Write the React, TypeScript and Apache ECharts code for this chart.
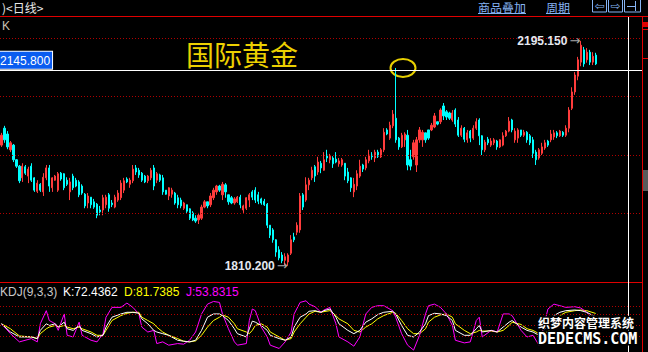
import React, { useEffect, useRef } from 'react';
import * as echarts from 'echarts';

// [open, close, low, high]
const ohlc: number[][] = [
  [2017, 2034, 2014, 2038], [2046, 2026, 2021, 2050], [2036, 2014, 2010, 2041], [2009, 2021, 2005, 2024],
  [2017, 1992, 1988, 2019], [1992, 1981, 1978, 1993], [1981, 1956, 1952, 1983], [1961, 1981, 1954, 1986],
  [1980, 1969, 1966, 1983], [1964, 1976, 1952, 1980], [1981, 1957, 1954, 1986], [1961, 1940, 1937, 1962],
  [1938, 1952, 1935, 1957], [1950, 1940, 1937, 1952], [1937, 1962, 1930, 1969], [1961, 1978, 1957, 1983],
  [1978, 1947, 1937, 1983], [1944, 1961, 1937, 1962], [1957, 1964, 1956, 1966], [1940, 1968, 1937, 1971],
  [1969, 1959, 1956, 1971], [1968, 1944, 1940, 1969], [1957, 1950, 1947, 1962], [1937, 1954, 1923, 1961],
  [1964, 1944, 1940, 1968], [1957, 1947, 1945, 1961], [1954, 1932, 1928, 1957], [1947, 1935, 1932, 1950],
  [1933, 1913, 1909, 1935], [1918, 1930, 1909, 1935], [1928, 1915, 1909, 1928], [1920, 1911, 1908, 1925],
  [1916, 1897, 1892, 1918], [1906, 1903, 1897, 1913], [1906, 1927, 1897, 1932], [1915, 1928, 1909, 1932],
  [1932, 1909, 1903, 1935], [1918, 1915, 1911, 1923], [1911, 1928, 1909, 1932], [1923, 1935, 1920, 1940],
  [1927, 1952, 1923, 1957], [1940, 1956, 1935, 1961], [1959, 1954, 1952, 1962], [1950, 1957, 1944, 1961],
  [1956, 1976, 1952, 1983], [1978, 1971, 1966, 1983], [1974, 1966, 1961, 1978], [1969, 1957, 1954, 1971],
  [1964, 1954, 1952, 1966], [1956, 1964, 1952, 1966], [1961, 1974, 1957, 1978], [1978, 1947, 1940, 1983],
  [1957, 1968, 1952, 1971], [1966, 1957, 1954, 1968], [1961, 1937, 1932, 1966], [1940, 1933, 1932, 1940],
  [1930, 1944, 1923, 1945], [1933, 1940, 1927, 1944], [1935, 1918, 1915, 1937], [1927, 1915, 1909, 1932],
  [1923, 1913, 1909, 1927], [1909, 1918, 1906, 1920], [1915, 1904, 1901, 1915], [1908, 1892, 1889, 1909],
  [1901, 1889, 1887, 1904], [1892, 1887, 1884, 1897], [1889, 1897, 1882, 1901], [1892, 1911, 1889, 1915],
  [1911, 1920, 1909, 1923], [1920, 1913, 1909, 1920], [1915, 1930, 1911, 1935], [1927, 1940, 1923, 1944],
  [1937, 1947, 1932, 1949], [1947, 1940, 1937, 1949], [1932, 1950, 1923, 1954], [1949, 1937, 1927, 1952],
  [1932, 1920, 1915, 1932], [1927, 1918, 1916, 1930], [1918, 1925, 1915, 1928], [1920, 1928, 1918, 1930],
  [1928, 1915, 1909, 1932], [1906, 1913, 1901, 1915], [1909, 1927, 1906, 1928], [1923, 1932, 1911, 1935],
  [1937, 1928, 1923, 1940], [1940, 1923, 1918, 1945], [1932, 1921, 1916, 1937], [1925, 1918, 1915, 1927],
  [1921, 1915, 1913, 1925], [1916, 1880, 1875, 1918], [1880, 1863, 1858, 1880], [1872, 1855, 1850, 1875],
  [1855, 1834, 1826, 1856], [1838, 1824, 1820, 1844], [1829, 1819, 1815, 1834], [1820, 1826, 1812, 1832],
  [1817, 1829, 1810.2, 1832], [1832, 1855, 1829, 1863], [1860, 1855, 1851, 1867], [1868, 1880, 1863, 1885],
  [1872, 1930, 1867, 1935], [1932, 1911, 1906, 1935], [1923, 1949, 1920, 1962], [1949, 1957, 1940, 1961],
  [1961, 1974, 1957, 1980], [1980, 1964, 1954, 1983], [1971, 1988, 1966, 1997], [1986, 1978, 1969, 1990],
  [1974, 1992, 1973, 2005], [2000, 1995, 1988, 2009], [1992, 1998, 1986, 2002], [1995, 1985, 1978, 1998],
  [1993, 1988, 1986, 2005], [1985, 1990, 1980, 1995], [1983, 1992, 1980, 1995], [1986, 1964, 1957, 1986],
  [1971, 1956, 1952, 1978], [1961, 1944, 1937, 1962], [1937, 1950, 1928, 1961], [1947, 1968, 1940, 1974],
  [1964, 1981, 1961, 1992], [1983, 1976, 1971, 1985], [1978, 1992, 1974, 1997], [1990, 2000, 1986, 2009],
  [2000, 1997, 1992, 2005], [1995, 2005, 1988, 2009], [2005, 1998, 1995, 2009], [1997, 2009, 1995, 2012],
  [2009, 2039, 2005, 2046], [2043, 2036, 2034, 2046], [2029, 2051, 2026, 2057], [2050, 2070, 2046, 2077],
  [2063, 2026, 2021, 2149], [2029, 2014, 2009, 2031], [2014, 2034, 2012, 2038], [2026, 2036, 2014, 2039],
  [2034, 1983, 1974, 2043], [1992, 1981, 1974, 2009], [1997, 2021, 1992, 2026], [1983, 2026, 1971, 2031],
  [2026, 2043, 2021, 2048], [2026, 2039, 2014, 2043], [2038, 2026, 2021, 2038], [2043, 2029, 2026, 2043],
  [2043, 2051, 2041, 2055], [2048, 2067, 2046, 2072], [2057, 2053, 2051, 2057], [2057, 2077, 2053, 2080],
  [2084, 2067, 2060, 2089], [2074, 2065, 2060, 2077], [2072, 2063, 2060, 2074], [2060, 2072, 2057, 2077],
  [2077, 2053, 2048, 2080], [2060, 2034, 2031, 2065], [2034, 2046, 2031, 2051], [2046, 2027, 2022, 2048],
  [2026, 2038, 2021, 2043], [2041, 2029, 2022, 2043], [2029, 2046, 2026, 2051], [2046, 2057, 2043, 2063],
  [2060, 2033, 2017, 2063], [2033, 2009, 2000, 2034], [2009, 2022, 2005, 2026], [2027, 2021, 2017, 2031],
  [2017, 2024, 2014, 2029], [2021, 2026, 2017, 2029], [2024, 2014, 2009, 2026], [2014, 2026, 2012, 2027],
  [2017, 2033, 2015, 2039], [2033, 2041, 2031, 2043], [2041, 2058, 2039, 2065], [2060, 2043, 2039, 2062],
  [2026, 2041, 2021, 2046], [2029, 2043, 2021, 2046], [2043, 2034, 2031, 2043], [2034, 2039, 2031, 2043],
  [2039, 2026, 2021, 2041], [2033, 2021, 2017, 2036], [2026, 2003, 1995, 2031], [2005, 1992, 1983, 2009],
  [1995, 2009, 1992, 2012], [2003, 2014, 2000, 2021], [2012, 2021, 2009, 2026], [2024, 2017, 2014, 2026],
  [2026, 2036, 2022, 2043], [2031, 2038, 2026, 2043], [2038, 2033, 2029, 2041], [2033, 2041, 2031, 2043],
  [2039, 2034, 2031, 2041], [2034, 2046, 2031, 2051], [2046, 2077, 2039, 2082], [2080, 2108, 2077, 2116],
  [2108, 2137, 2103, 2142], [2135, 2163, 2128, 2168], [2159, 2188, 2152, 2195.15], [2180, 2156, 2151, 2185],
  [2163, 2176, 2158, 2183], [2176, 2159, 2154, 2180], [2159, 2169, 2154, 2176], [2171, 2156, 2154, 2175],
];

const kdjIdx = [0, 3, 6, 10, 12, 13, 15, 16, 18, 19, 21, 22, 24, 26, 27, 30, 32, 34, 35, 37, 40, 42, 44, 46, 47, 49, 51, 52, 54, 56, 59, 61, 63, 65, 67, 69, 71, 73, 74, 76, 78, 79, 82, 83, 84, 85, 87, 89, 90, 93, 95, 97, 98, 100, 102, 103, 105, 107, 108, 110, 112, 113, 116, 118, 120, 122, 124, 126, 128, 131, 132, 134, 136, 138, 140, 142, 143, 145, 147, 149, 151, 152, 155, 157, 159, 160, 161, 164, 166, 168, 170, 171, 174, 176, 178, 180, 183, 185, 187, 189, 192, 194, 196, 199];
const kVals = [53.8, 31.6, 18.2, 18.2, 13.8, 36, 53.8, 49.3, 53.8, 44.9, 58.2, 40.4, 36, 49.3, 36, 27.1, 18.2, 22.7, 44.9, 71.6, 80.4, 84.9, 84.9, 82.2, 67.1, 53.8, 36, 31.6, 27.1, 22.7, 9.3, 6.7, 4.9, 9.3, 36, 71.6, 80.4, 80.4, 76, 62.7, 40.4, 27.1, 18.2, 40.4, 60.9, 58.2, 49.3, 36, 22.7, 13.8, 9.3, 18.2, 44.9, 71.6, 80.4, 87.6, 89.3, 84.9, 89.3, 93.8, 71.6, 53.8, 36, 27.1, 36, 58.2, 67.1, 78.7, 84.9, 87.6, 80.4, 49.3, 22.7, 18.2, 31.6, 53.8, 76, 82.2, 80.4, 76, 62.7, 36, 22.7, 22.7, 40.4, 49.3, 31.6, 36, 31.6, 44.9, 58.2, 62.7, 44.9, 36, 31.6, 22.7, 49.3, 76, 84.9, 89.3, 91.1, 89.3, 84.9, 72.4362];
const dVals = [53.8, 40.4, 20.9, 18.2, 13.8, 27.1, 40.4, 44.9, 49.3, 44.9, 49.3, 44.9, 40.4, 44.9, 40.4, 31.6, 22.7, 22.7, 36, 62.7, 76, 82.2, 84.9, 84.9, 71.6, 62.7, 53.8, 44.9, 31.6, 22.7, 13.8, 6.7, 4.9, 7.6, 22.7, 44.9, 62.7, 71.6, 77.8, 71.6, 53.8, 40.4, 31.6, 27.1, 36, 49.3, 53.8, 44.9, 31.6, 18.2, 9.3, 13.8, 31.6, 53.8, 71.6, 80.4, 87.6, 84.9, 86.7, 89.3, 76, 67.1, 53.8, 36, 31.6, 44.9, 53.8, 67.1, 76, 84.9, 82.2, 62.7, 40.4, 27.1, 27.1, 40.4, 58.2, 71.6, 77.8, 80.4, 71.6, 53.8, 36, 27.1, 31.6, 36, 34.2, 34.2, 31.6, 36, 49.3, 58.2, 52, 40.4, 36, 27.1, 31.6, 58.2, 76, 84.9, 89.3, 91.1, 89.3, 81.7385];
const jVals = [53.8, 27.1, 4.9, 13.8, 4.9, 53.8, 89.3, 62.7, 53.8, 36, 80.4, 22.7, 18.2, 58.2, 22.7, 9.3, 4.9, 27.1, 71.6, 98.2, 98.2, 109.8, 98.2, 80.4, 44.9, 31.6, 36, 0.4, 4.9, -4, 0.4, -1.3, 9.3, 31.6, 80.4, 107, 114.2, 111.6, 80.4, 40.4, 4.9, -4, 0.4, 62.7, 93.8, 89.3, 44.9, 18.2, -4, -12.9, 4.9, 31.6, 80.4, 111.6, 116, 107, 100, 84.9, 91.1, 98.2, 53.8, 18.2, 4.9, -6.7, 18.2, 80.4, 98.2, 102.7, 102.7, 89.3, 71.6, 27.1, -4, -17.3, 22.7, 80.4, 102.7, 107, 98.2, 80.4, 49.3, 9.3, 2.2, 4.9, 62.7, 71.6, 18.2, 36, 31.6, 80.4, 80.4, 76, 36, 18.2, 22.7, -4, 93.8, 107, 102.7, 98.2, 100, 96.4, 84.9, 53.8315];

const priceLevels = [1900, 2000, 2100, 2200];
const kdjLevels = [20, 50, 80, 100];
const crossPrice = 2145.8;
const highIdx = 194;
const highPrice = 2195.15;
const lowIdx = 96;
const lowPrice = 1810.2;
const kdjTitle = 'KDJ(9,3,3)';
const kdjLast = { k: 72.4362, d: 81.7385, j: 53.8315 };
const SLOTS = 215;
const categories = Array.from({ length: SLOTS }, (_, i) => 'd' + i);

const RED = '#ff3c3c';
const CYAN = '#00ffff';
const BORDER = '#e00000';
const DOT = '#b00000';
const UI_BLUE = '#86b4f4';

export default function App() {
  const ref = useRef<HTMLDivElement>(null);
  useEffect(() => {
    if (!ref.current) return;
    const chart = echarts.init(ref.current, undefined, { renderer: 'svg' });
    const dotted = (v: number) => ({
      yAxis: v,
      lineStyle: { color: DOT, type: [1, 2], width: 1 },
      label: { show: false },
    });
    const pointLabel = (txt: string) => ({
      show: true,
      position: 'left',
      distance: 0,
      formatter: '{t|' + txt + '}{a|\u2192}',
      rich: {
        t: { color: '#e4e8f0', fontFamily: 'Liberation Sans', fontWeight: 'bold', fontSize: 12 },
        a: { color: '#a8a8a8', fontFamily: 'DejaVu Sans', fontSize: 13, padding: [0, 0, 0, 2] },
      },
    });
    const topText = (text: string, x: number, fill: string) => ({
      type: 'text', x, y: 1,
      style: { text, fill, font: '12px "Noto Sans CJK SC"', lineHeight: 12, verticalAlign: 'top' },
    });
    chart.setOption({
      animation: false,
      backgroundColor: '#000',
      grid: [
        { left: 0, top: 16, width: 642, height: 266 },
        { left: 0, top: 299.3, width: 642, height: 51.8 },
      ],
      xAxis: [
        { type: 'category', data: categories, gridIndex: 0, show: false, boundaryGap: true },
        { type: 'value', gridIndex: 1, min: -0.5, max: SLOTS - 0.5, show: false },
      ],
      yAxis: [
        { type: 'value', gridIndex: 0, min: 1782.82, max: 2237.92, show: false, scale: true },
        { type: 'value', gridIndex: 1, min: -20, max: 120, show: false },
      ],
      series: [
        {
          type: 'candlestick',
          xAxisIndex: 0,
          yAxisIndex: 0,
          data: ohlc,
          barWidth: 1.7,
          itemStyle: { color: RED, color0: CYAN, borderColor: RED, borderColor0: CYAN, borderWidth: 1 },
          markLine: {
            silent: true,
            symbol: ['none', 'none'],
            animation: false,
            data: [
              ...priceLevels.map((v) => dotted(v)),
              {
                yAxis: crossPrice,
                lineStyle: { color: '#ffffff', type: 'solid', width: 1 },
                label: {
                  show: true,
                  position: 'insideStartTop',
                  distance: [-2, 1],
                  formatter: crossPrice.toFixed(3),
                  color: '#ffffff',
                  backgroundColor: '#0a5cf0',
                  borderColor: '#ffffff',
                  borderWidth: 1,
                  padding: [3, 2, 2, 2],
                  fontFamily: 'Liberation Sans',
                  fontSize: 12,
                },
              },
            ],
          },
          markPoint: {
            silent: true,
            symbol: 'circle',
            symbolSize: 1,
            itemStyle: { color: 'rgba(0,0,0,0)' },
            data: [
              { coord: [highIdx, highPrice], value: highPrice, label: pointLabel(highPrice.toFixed(3)) },
              { coord: [lowIdx, lowPrice], value: lowPrice, label: pointLabel(lowPrice.toFixed(3)) },
            ],
          },
        },
        {
          type: 'line',
          xAxisIndex: 1,
          yAxisIndex: 1,
          data: kdjIdx.map((x, i) => [x, dVals[i]]),
          symbol: 'none',
          lineStyle: { color: '#ffff00', width: 1 },
          markLine: {
            silent: true,
            symbol: ['none', 'none'],
            data: kdjLevels.map((v) => dotted(v)),
          },
        },
        {
          type: 'line',
          xAxisIndex: 1,
          yAxisIndex: 1,
          data: kdjIdx.map((x, i) => [x, jVals[i]]),
          symbol: 'none',
          lineStyle: { color: '#ff00ff', width: 1 },
        },
        {
          type: 'line',
          xAxisIndex: 1,
          yAxisIndex: 1,
          data: kdjIdx.map((x, i) => [x, kVals[i]]),
          symbol: 'none',
          lineStyle: { color: '#ffffff', width: 1 },
        },
      ],
      graphic: [
        { type: 'line', shape: { x1: 0, y1: 16.5, x2: 648, y2: 16.5 }, style: { stroke: BORDER, lineWidth: 1 } },
        { type: 'line', shape: { x1: 0, y1: 282.5, x2: 642, y2: 282.5 }, style: { stroke: BORDER, lineWidth: 1 } },
        { type: 'line', shape: { x1: 642.5, y1: 16, x2: 642.5, y2: 352 }, style: { stroke: BORDER, lineWidth: 1 } },
        { type: 'line', shape: { x1: 628.5, y1: 17, x2: 628.5, y2: 352 }, style: { stroke: '#ffffff', lineWidth: 1 } },
        { type: 'rect', shape: { x: 643, y: 22, width: 5, height: 5 }, style: { fill: BORDER } },
        { type: 'line', shape: { x1: 643, y1: 29.5, x2: 648, y2: 29.5 }, style: { stroke: BORDER, lineWidth: 1 } },
        { type: 'line', shape: { x1: 643, y1: 58.5, x2: 648, y2: 58.5 }, style: { stroke: BORDER, lineWidth: 1 } },
        { type: 'rect', shape: { x: 643, y: 170, width: 5, height: 21 }, style: { fill: '#5a5a5a' } },
        topText(')<日线>', 2, '#e8e8e8'),
        topText('商品叠加', 478, UI_BLUE),
        { type: 'line', shape: { x1: 478, y1: 13.5, x2: 526, y2: 13.5 }, style: { stroke: UI_BLUE, lineWidth: 1 } },
        topText('周期', 546, UI_BLUE),
        { type: 'line', shape: { x1: 546, y1: 13.5, x2: 570, y2: 13.5 }, style: { stroke: UI_BLUE, lineWidth: 1 } },
        { type: 'rect', shape: { x: 592.5, y: -1, width: 14, height: 13 }, style: { fill: 'none', stroke: UI_BLUE, lineWidth: 1 } },
        { type: 'rect', shape: { x: 608.5, y: -1, width: 14, height: 13 }, style: { fill: 'none', stroke: UI_BLUE, lineWidth: 1 } },
        { type: 'rect', shape: { x: 624.5, y: -1, width: 16, height: 13 }, style: { fill: 'none', stroke: UI_BLUE, lineWidth: 1 } },
        {
          type: 'text', x: 599.5, y: 6,
          style: { text: '\u21e6', fill: UI_BLUE, font: '12px "DejaVu Sans"', lineHeight: 11, align: 'center', verticalAlign: 'middle' },
        },
        {
          type: 'text', x: 615.5, y: 6,
          style: { text: '\u21e8', fill: UI_BLUE, font: '12px "DejaVu Sans"', lineHeight: 11, align: 'center', verticalAlign: 'middle' },
        },
        { type: 'line', shape: { x1: 627, y1: 6.5, x2: 635, y2: 6.5 }, style: { stroke: UI_BLUE, lineWidth: 1 } },
        { type: 'line', shape: { x1: 635.5, y1: 1, x2: 635.5, y2: 11 }, style: { stroke: UI_BLUE, lineWidth: 1 } },
        {
          type: 'text', x: 2, y: 20,
          style: { text: 'K', fill: '#c8c2b2', font: '12px "Liberation Sans"', verticalAlign: 'top' },
        },
        {
          type: 'text', x: 186, y: 40,
          style: { text: '国际黄金', fill: '#ecd000', font: '28px "Noto Sans CJK SC"', verticalAlign: 'top' },
        },
        {
          type: 'ellipse', shape: { cx: 403, cy: 68, rx: 12.5, ry: 9 },
          style: { fill: 'none', stroke: '#e8d000', lineWidth: 2 },
        },
        {
          type: 'text', x: 0, y: 286,
          style: { text: kdjTitle, fill: '#c8c8c8', font: '12px "Liberation Sans"', verticalAlign: 'top' },
        },
        {
          type: 'text', x: 63, y: 286,
          style: { text: 'K:' + kdjLast.k.toFixed(4), fill: '#ffffff', font: '12px "Liberation Sans"', verticalAlign: 'top' },
        },
        {
          type: 'text', x: 124, y: 286,
          style: { text: 'D:' + kdjLast.d.toFixed(4), fill: '#ffff00', font: '12px "Liberation Sans"', verticalAlign: 'top' },
        },
        {
          type: 'text', x: 186, y: 286,
          style: { text: 'J:' + kdjLast.j.toFixed(4), fill: '#ff00ff', font: '12px "Liberation Sans"', verticalAlign: 'top' },
        },
        {
          type: 'text', x: 538, y: 316, z: 100,
          style: {
            text: '织梦内容管理系统', fill: '#ffffff', stroke: '#000000', lineWidth: 3,
            font: 'bold 12px "Noto Sans CJK SC"', verticalAlign: 'top',
          },
        },
        {
          type: 'text', x: 538, y: 331, z: 100,
          style: {
            text: 'DEDECMS.COM', fill: '#ffffff', stroke: '#000000', lineWidth: 3,
            font: 'bold 15px "DejaVu Sans Mono"', verticalAlign: 'top',
          },
        },
      ],
    });
    return () => chart.dispose();
  }, []);
  return (
    <div
      ref={ref}
      style={{ position: 'fixed', left: 0, top: 0, width: 648, height: 352, background: '#000' }}
    />
  );
}
